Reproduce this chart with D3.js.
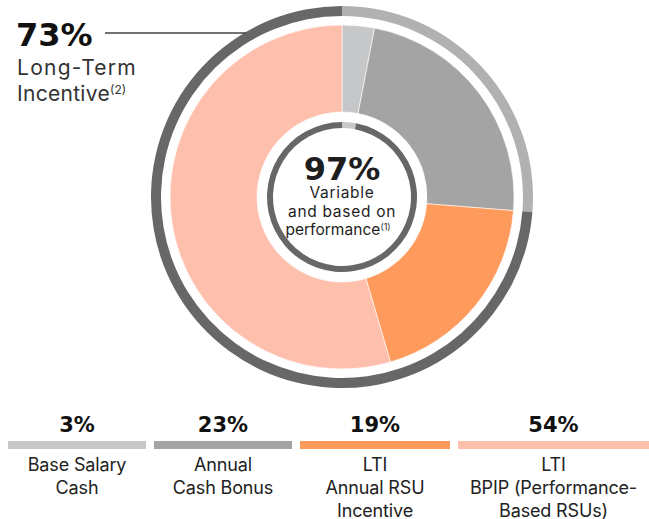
<!DOCTYPE html>
<html>
<head>
<meta charset="utf-8">
<script src="https://cdn.jsdelivr.net/npm/d3@7"></script>
<style>
  body { margin: 0; background: #fff; }
  text { font-family: Inter, Roboto, "Noto Sans", sans-serif; }
  text.num { font-family: "DejaVu Sans", sans-serif; font-weight: bold; }
</style>
</head>
<body>
<div id="chart"></div>
<script>
// pay mix data
var categories = ["Base Salary Cash", "Annual Cash Bonus", "LTI Annual RSU Incentive", "LTI BPIP (Performance-Based RSUs)"];
var values = [3, 23, 19, 54];
var valueLabels = ["3%", "23%", "19%", "54%"];
var legendLines = [["Base Salary", "Cash"], ["Annual", "Cash Bonus"], ["LTI", "Annual RSU", "Incentive"], ["LTI", "BPIP (Performance-", "Based RSUs)"]];
var colors = ["#c6c7c9", "#a4a4a4", "#ff9a5d", "#ffbfad"];

// outer ring: cash vs long-term incentive
var outerGroups = ["Cash", "Long-Term Incentive"];
var outerValues = [26, 73];
var outerColors = ["#b1b1b1", "#676767"];

// inner ring: fixed vs variable
var innerGroups = ["Fixed", "Variable"];
var innerValues = [3, 97];
var innerColors = ["#c8c8c8", "#676767"];

var w = 649, h = 519,
	cx = 342, cy = 197;

// stretch a text to a width with letter-spacing (the original font is wide)
function spaceTo(node, target) {
	var len = node.getComputedTextLength(),
		n = node.textContent.length;
	d3.select(node).style("letter-spacing", ((target - len) / n) + "px");
}

var svg = d3.select("#chart").append("svg")
	.attr("width", w)
	.attr("height", h);

var pie = d3.pie().sort(null).value(function(d){ return d; });

var g = svg.append("g")
	.attr("transform", "translate(" + cx + "," + cy + ")");

// main donut
var arcMain = d3.arc().innerRadius(85).outerRadius(172);
g.selectAll("path.slice")
	.data(pie(values))
	.enter().append("path")
	.attr("class", "slice")
	.attr("d", arcMain)
	.style("fill", function(d, i){ return colors[i]; })
	.style("stroke", "#fff")
	.style("stroke-width", 0.6);

// outer ring
var arcOuter = d3.arc().innerRadius(181).outerRadius(191);
g.selectAll("path.outer")
	.data(pie(outerValues))
	.enter().append("path")
	.attr("class", "outer")
	.attr("d", arcOuter)
	.style("fill", function(d, i){ return outerColors[i]; });

// inner ring
var arcInner = d3.arc().innerRadius(69).outerRadius(75);
g.selectAll("path.inner")
	.data(pie(innerValues))
	.enter().append("path")
	.attr("class", "inner")
	.attr("d", arcInner)
	.style("fill", function(d, i){ return innerColors[i]; });

// centre text
var center = g.append("g").attr("text-anchor", "middle").style("fill", "#1e1e1e");
center.append("text").attr("class", "num").attr("x", 0).attr("y", -17)
	.style("font-size", "32px")
	.text(innerValues[1] + "%");
var v1 = center.append("text").attr("y", 1).style("font-size", "15.5px").text("Variable");
var v2 = center.append("text").attr("y", 19.5).style("font-size", "15.5px").text("and based on");
var perf = center.append("text").attr("x", -4).attr("y", 38).style("font-size", "15.5px");
var perfMain = perf.append("tspan").text("performance");
perf.append("tspan").attr("dy", -5).style("font-size", "9px").text("(1)");
spaceTo(v1.node(), 65);
spaceTo(v2.node(), 108);
var pl = perfMain.node().getComputedTextLength();
perfMain.style("letter-spacing", ((95 - pl) / 11) + "px");

// callout for LTI
svg.append("line")
	.attr("x1", 105).attr("x2", 246)
	.attr("y1", 33).attr("y2", 33)
	.style("stroke", "#444")
	.style("stroke-width", 1.6);

svg.append("text")
	.attr("class", "num")
	.attr("x", 16).attr("y", 46)
	.style("font-size", "32px").style("fill", "#111")
	.text(outerValues[1] + "%");
var lt = svg.append("text")
	.attr("x", 17).attr("y", 75)
	.style("font-size", "21px").style("fill", "#333")
	.text("Long-Term");
spaceTo(lt.node(), 120);
var inc = svg.append("text")
	.attr("x", 17).attr("y", 101)
	.style("font-size", "21px").style("fill", "#333");
var incMain = inc.append("tspan").text("Incentive");
inc.append("tspan").attr("dy", -7).style("font-size", "12px").text("(2)");
var il = incMain.node().getComputedTextLength();
incMain.style("letter-spacing", ((93 - il) / 9) + "px");

// legend bars below
var colEdges = [8, 154, 300, 458, 657];
var gap = 8;

var legend = svg.append("g").selectAll("g")
	.data(categories)
	.enter().append("g");

legend.append("rect")
	.attr("x", function(d, i){ return colEdges[i]; })
	.attr("y", 441)
	.attr("width", function(d, i){ return colEdges[i + 1] - colEdges[i] - gap; })
	.attr("height", 8)
	.style("fill", function(d, i){ return colors[i]; });

legend.append("text")
	.attr("class", "num")
	.attr("x", function(d, i){ return (colEdges[i] + colEdges[i + 1] - gap) / 2; })
	.attr("y", 432)
	.attr("text-anchor", "middle")
	.style("font-size", "21px").style("fill", "#111")
	.text(function(d, i){ return valueLabels[i]; });

legend.each(function(d, i){
	var gx = (colEdges[i] + colEdges[i + 1] - gap) / 2;
	d3.select(this).selectAll("text.lbl")
		.data(legendLines[i])
		.enter().append("text")
		.attr("class", "lbl")
		.attr("x", gx)
		.attr("y", function(t, j){ return 471 + j * 23; })
		.attr("text-anchor", "middle")
		.style("font-size", "18px").style("fill", "#222")
		.text(function(t){ return t; });
});

// widen legend labels by the same spacing, set from the longest line
var longest = svg.selectAll("text.lbl").filter(function(t){ return t === "BPIP (Performance-"; }).node();
var ls = (167 - longest.getComputedTextLength()) / longest.textContent.length;
svg.selectAll("text.lbl").style("letter-spacing", ls + "px");
</script>
</body>
</html>
